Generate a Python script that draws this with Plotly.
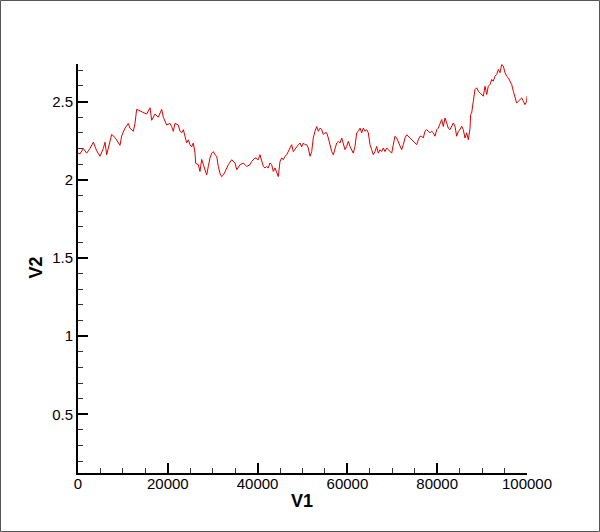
import plotly.graph_objects as go

v1 = [0, 445, 1180, 1930, 2670, 3410, 4160, 4900, 5640, 6010, 6390, 7130, 7500, 8240,
      8980, 9350, 9730, 10470, 11200, 11580, 12320, 12690, 13070, 13810, 14540, 15290,
      16040, 16410, 17150, 17880, 18640, 19000, 19750, 20490, 20860, 21230, 21600,
      22340, 22720, 23090, 23460, 23830, 24210, 24570, 24940, 25320, 25680, 26060,
      26210, 26800, 27170, 27550, 27910, 28290, 28660, 29020, 29400, 29780, 30130,
      30510, 30890, 31250, 31630, 32000, 32360, 32740, 33470, 34230, 34970, 35350,
      36080, 36820, 37570, 38310, 38690, 39420, 40160, 40530, 41270, 41650, 42020,
      42380, 42760, 43140, 43500, 43880, 44250, 44610, 44990, 45370, 45720, 46100,
      46480, 46840, 47220, 47590, 47950, 48330, 48710, 49070, 49440, 49820, 50180,
      50560, 50930, 51290, 51670, 52050, 52400, 52780, 53160, 53520, 53900, 54280,
      54630, 55010, 55390, 55750, 56120, 56500, 56860, 57240, 57620, 57970, 58350,
      58730, 59090, 59470, 59840, 60200, 60580, 60960, 61310, 61690, 62070, 62430,
      62810, 63180, 63540, 63920, 64300, 64660, 65030, 65410, 65770, 66150, 66520,
      66880, 67260, 67640, 68000, 68370, 68750, 69110, 69490, 69870, 70220, 70600,
      70980, 71340, 71710, 72090, 72450, 72830, 73200, 73560, 73940, 74320, 74680,
      75060, 75430, 75790, 76170, 76550, 76900, 77280, 77660, 78020, 78400, 78770,
      79130, 79510, 79890, 80240, 80620, 81000, 81360, 81740, 82110, 82470, 82850,
      83230, 83590, 83960, 84340, 84700, 85080, 85460, 85810, 86190, 86570, 86930,
      87310, 87450, 87680, 88040, 88420, 88800, 89150, 89530, 89910, 90270, 90650,
      91020, 91380, 91760, 92140, 92490, 92870, 93250, 93610, 93990, 94360, 94720,
      95100, 95470, 95830, 96210, 96590, 96950, 97330, 97700, 98060, 98440, 98820,
      99180, 99550, 99930, 100000]
v2 = [2.17, 2.165, 2.20, 2.17, 2.20, 2.24, 2.185, 2.15, 2.20, 2.24, 2.16, 2.245, 2.29, 2.27,
      2.235, 2.22, 2.28, 2.33, 2.36, 2.33, 2.31, 2.36, 2.45, 2.44, 2.43, 2.42,
      2.46, 2.38, 2.42, 2.40, 2.45, 2.40, 2.35, 2.36, 2.34, 2.31, 2.36,
      2.35, 2.31, 2.30, 2.32, 2.27, 2.235, 2.255, 2.225, 2.21, 2.235, 2.17,
      2.105, 2.096, 2.053, 2.13, 2.096, 2.075, 2.03, 2.085, 2.14, 2.17, 2.18,
      2.16, 2.15, 2.085, 2.04, 2.02, 2.03, 2.05, 2.096, 2.128, 2.107, 2.064,
      2.096, 2.107, 2.085, 2.096, 2.117, 2.14, 2.128, 2.16, 2.085, 2.075, 2.085,
      2.075, 2.107, 2.096, 2.053, 2.075, 2.043, 2.02, 2.117, 2.14, 2.128, 2.15,
      2.16, 2.18, 2.21, 2.224, 2.18, 2.192, 2.21, 2.224, 2.235, 2.21, 2.235,
      2.224, 2.224, 2.203, 2.15, 2.18, 2.267, 2.31, 2.34, 2.31, 2.33, 2.32,
      2.29, 2.30, 2.30, 2.267, 2.213, 2.18, 2.16, 2.203, 2.235, 2.245, 2.235,
      2.267, 2.235, 2.192, 2.213, 2.245, 2.213, 2.192, 2.17, 2.213, 2.30, 2.31,
      2.33, 2.30, 2.33, 2.31, 2.32, 2.30, 2.224, 2.192, 2.16, 2.18, 2.213,
      2.17, 2.192, 2.18, 2.203, 2.18, 2.203, 2.192, 2.18, 2.17, 2.224, 2.278,
      2.267, 2.245, 2.213, 2.192, 2.224, 2.267, 2.288, 2.278, 2.267, 2.256, 2.245,
      2.235, 2.224, 2.256, 2.278, 2.278, 2.267, 2.31, 2.32, 2.31, 2.30, 2.31,
      2.30, 2.278, 2.32, 2.33, 2.363, 2.385, 2.34, 2.395, 2.363, 2.33, 2.32,
      2.342, 2.363, 2.342, 2.278, 2.31, 2.32, 2.342, 2.32, 2.267, 2.30, 2.256,
      2.33, 2.417, 2.427, 2.502, 2.577, 2.588, 2.566, 2.556, 2.545, 2.534, 2.598,
      2.545, 2.598, 2.609, 2.641, 2.63, 2.662, 2.673, 2.705, 2.684, 2.737, 2.727,
      2.684, 2.662, 2.652, 2.63, 2.609, 2.566, 2.534, 2.49, 2.502, 2.513, 2.523,
      2.502, 2.48, 2.502, 2.534]

x_ticks = [0, 20000, 40000, 60000, 80000, 100000]
y_ticks = [0.5, 1, 1.5, 2, 2.5]

W, H = 600, 532
L, R, T, B = 78, 73, 64, 59
pw, ph = W - L - R, H - T - B

fig = go.Figure(go.Scatter(x=v1, y=v2, mode="lines",
                           line=dict(color="#e00000", width=1)))

axis_common = dict(showline=True, linecolor="black", linewidth=2, mirror=False,
                   ticks="inside", ticklen=10, tickwidth=2, tickcolor="black",
                   showgrid=False, zeroline=False,
                   tickfont=dict(family="Liberation Sans, Arial", size=15, color="black"))

fig.update_xaxes(range=[0, 100000], tickvals=x_ticks,
                 ticktext=[str(v) for v in x_ticks], ticklabelstandoff=-4,
                 minor=dict(ticks="inside", ticklen=5, tickwidth=1, tickcolor="#333",
                            dtick=5000, tick0=0),
                 **axis_common)
fig.update_yaxes(range=[0.125, 2.74], tickvals=y_ticks,
                 ticktext=["0.5", "1", "1.5", "2", "2.5"],
                 minor=dict(ticks="inside", ticklen=5, tickwidth=1, tickcolor="#333",
                            dtick=0.1, tick0=0),
                 **axis_common)

title_font = dict(family="Liberation Sans, Arial", size=18, color="black")
fig.add_annotation(text="<b>V1</b>", xref="paper", yref="paper",
                   x=(302 - L) / pw, y=(H - B - 500.5) / ph,
                   xanchor="center", yanchor="middle",
                   showarrow=False, font=title_font)
fig.add_annotation(text="<b>V2</b>", xref="paper", yref="paper",
                   x=(35.5 - L) / pw, y=(H - B - 268) / ph, textangle=-90,
                   xanchor="center", yanchor="middle",
                   showarrow=False, font=title_font)

# outer frame
fig.add_shape(type="rect", xref="paper", yref="paper",
              x0=(0.5 - L) / pw, x1=(W - 0.5 - L) / pw,
              y0=(H - B - (H - 0.5)) / ph, y1=(H - B - 0.5) / ph,
              line=dict(color="#555", width=1))

fig.update_layout(width=W, height=H, margin=dict(l=L, r=R, t=T, b=B),
                  paper_bgcolor="white", plot_bgcolor="white", showlegend=False)

fig.write_html("out.html", config={"displayModeBar": False},
               post_script="document.body.style.margin='0';")
